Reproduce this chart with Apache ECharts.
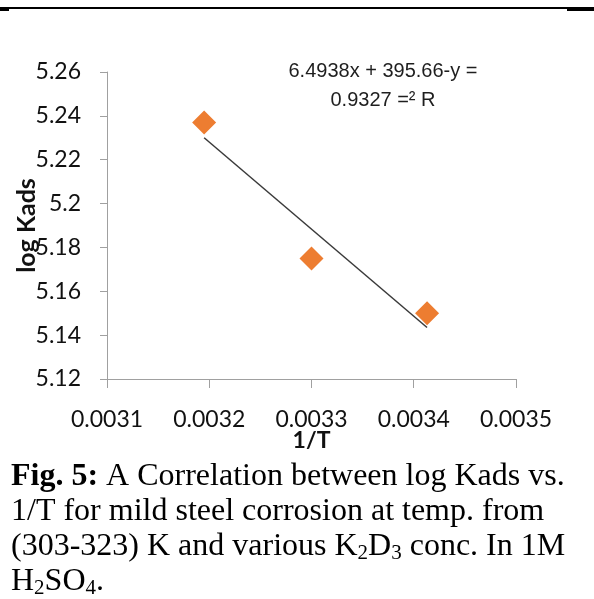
<!DOCTYPE html>
<html>
<head>
<meta charset="utf-8">
<title>log Kads vs 1/T</title>
<script src="https://cdn.jsdelivr.net/npm/echarts@6/dist/echarts.min.js"></script>
<style>
  html, body { margin: 0; padding: 0; background: #fff; }
  #chart { width: 594px; height: 599px; }
</style>
</head>
<body>
<div id="chart"></div>
<script>
// values
const invT = [0.003195, 0.0033, 0.003413];
const logKads = [5.237, 5.175, 5.150];
// linear trendline end points (y = -395.66x + 6.4938)
const trendX = [0.003195, 0.003413];
const trendY = [5.230, 5.1435];

const xRange = [0.0031, 0.0035];
const xStep = 0.0001;
const yRange = [5.12, 5.26];
const yStep = 0.02;

const equationLines = ["6.4938x + 395.66-y =", "0.9327 =\u00b2 R"];
const captionLines = [
  "{b|Fig. 5:} A Correlation between log Kads vs.",
  "1/T for mild steel corrosion at temp. from",
  "(303-323) K and various K{s|2}D{s|3} conc. In 1M",
  "H{s|2}SO{s|4}."
];

const labelFont = 'Lato, "Open Sans", sans-serif';
const serif = '"Liberation Serif", "Times New Roman", serif';

const chart = echarts.init(document.getElementById("chart"));

const option = {
  backgroundColor: "#fff",
  animation: false,
  grid: { left: 107, right: 78, top: 72, bottom: 220, outerBoundsMode: "none", containLabel: false },
  xAxis: {
    type: "value",
    min: xRange[0],
    max: xRange[1],
    interval: xStep,
    name: "1/T",
    nameLocation: "middle",
    nameGap: 50,
    nameMoveOverlap: false,
    nameTextStyle: { fontFamily: labelFont, fontWeight: "bold", fontSize: 23, color: "#111" },
    axisLine: { show: true, lineStyle: { color: "#a0a0a0", width: 1 } },
    axisTick: { show: true, length: 9, lineStyle: { color: "#a0a0a0" } },
    axisLabel: {
      margin: 29,
      fontFamily: labelFont,
      fontSize: 23,
      color: "#111",
      formatter: v => v.toFixed(4)
    },
    splitLine: { show: false }
  },
  yAxis: {
    type: "value",
    min: yRange[0],
    max: yRange[1],
    interval: yStep,
    name: "log Kads",
    nameLocation: "middle",
    nameRotate: 90,
    nameGap: 68,
    nameMoveOverlap: false,
    nameTextStyle: { fontFamily: labelFont, fontWeight: "bold", fontSize: 25, color: "#111" },
    axisLine: { show: true, lineStyle: { color: "#a0a0a0", width: 1 } },
    axisTick: { show: true, length: 7, lineStyle: { color: "#a0a0a0" } },
    axisLabel: {
      margin: 26,
      fontFamily: labelFont,
      fontSize: 23,
      color: "#111",
      formatter: v => String(parseFloat(v.toFixed(2)))
    },
    splitLine: { show: false }
  },
  series: [
    {
      name: "log Kads",
      type: "scatter",
      symbol: "diamond",
      symbolSize: 24,
      itemStyle: { color: "#ed7d31", opacity: 1 },
      data: invT.map((x, i) => [x, logKads[i]]),
      z: 2
    },
    {
      name: "trend",
      type: "line",
      symbol: "none",
      lineStyle: { color: "#3a3a3a", width: 1.5 },
      data: trendX.map((x, i) => [x, trendY[i]]),
      z: 3
    }
  ],
  graphic: [
    // page rule at top
    { type: "rect", shape: { x: 0, y: 7, width: 594, height: 2 }, style: { fill: "#000" } },
    { type: "rect", shape: { x: 0, y: 9, width: 9, height: 2 }, style: { fill: "#000" } },
    { type: "rect", shape: { x: 567, y: 9, width: 27, height: 2 }, style: { fill: "#000" } },
    // trendline equation
    {
      type: "text",
      x: 383,
      y: 57,
      style: {
        text: equationLines.join("\n"),
        font: '20px "Liberation Sans", Arial, sans-serif',
        fill: "#1e1e1e",
        align: "center",
        verticalAlign: "top",
        lineHeight: 29
      }
    },
    // figure caption
    {
      type: "text",
      x: 11,
      y: 459,
      style: {
        text: captionLines.join("\n"),
        font: "32px " + serif,
        fill: "#000",
        align: "left",
        verticalAlign: "top",
        lineHeight: 35,
        rich: {
          b: { font: "bold 32px " + serif, fill: "#000", lineHeight: 35 },
          s: { font: "21px " + serif, fill: "#000", lineHeight: 18, verticalAlign: "bottom" }
        }
      }
    }
  ]
};

chart.setOption(option);
</script>
</body>
</html>
